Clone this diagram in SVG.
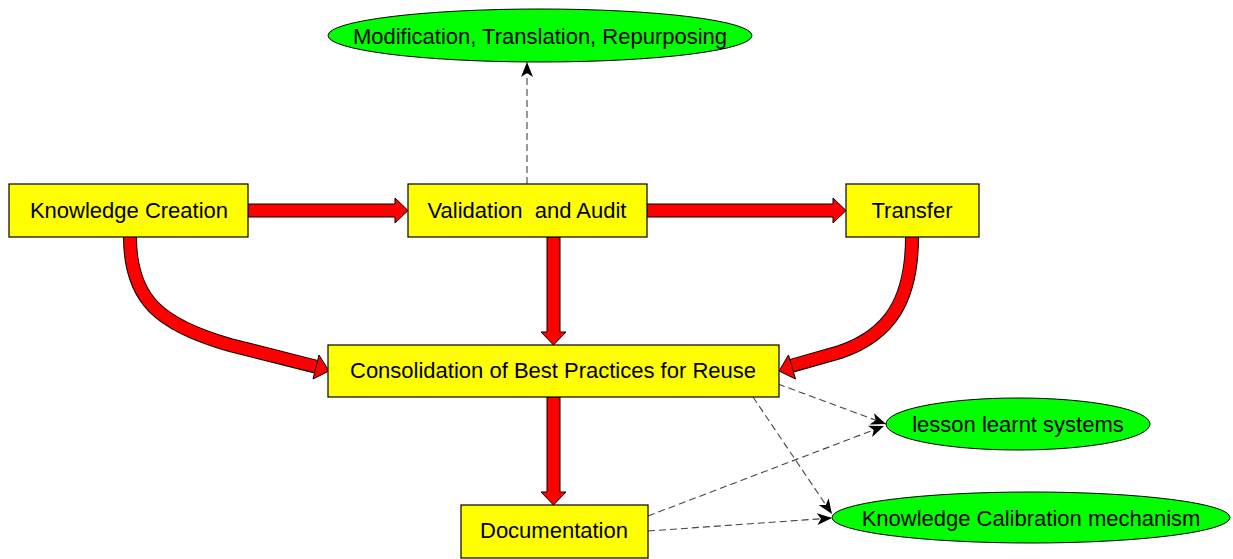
<svg xmlns="http://www.w3.org/2000/svg" width="1233" height="559" viewBox="0 0 1233 559">
<style>
.box{fill:#ffff00;stroke:#000;stroke-width:1.2}
.ell{fill:#00ff00;stroke:#000;stroke-width:1}
.t{font-family:"Liberation Sans",Arial,sans-serif;font-size:22px;fill:#000;text-anchor:middle;white-space:pre}
.fat{fill:#ff0000;stroke:#000;stroke-width:1}
.cout{fill:none;stroke:#000;stroke-width:14}
.cin{fill:none;stroke:#ff0000;stroke-width:12}
.dash{fill:none;stroke:#444;stroke-width:1.1;stroke-dasharray:7,4}
</style>
<defs>
<marker id="ah" viewBox="0 0 15 12" refX="15" refY="6" markerWidth="15" markerHeight="12" markerUnits="userSpaceOnUse" orient="auto">
<path d="M0,0 L15,6 L0,12 L4,6 z" fill="#000"/>
</marker>
</defs>
<g id="connectors">
<polygon class="fat" points="248,204 395,204 395,198 408,210.5 395,223 395,217 248,217"/>
<polygon class="fat" points="647,204 833,204 833,198 846,210.5 833,223 833,217 647,217"/>
<polygon class="fat" points="547,237 560,237 560,332 566,332 553.5,345 541,332 547,332"/>
<polygon class="fat" points="547,397 560,397 560,492 566,492 553.5,505 541,492 547,492"/>
<path class="cout" d="M130,237 C130,300 160,325 230,345 L317,367"/>
<path class="cin" d="M130,236 C130,300 160,325 230,345 L318,367"/>
<polygon class="fat" points="319,355 329,371 313,379"/>
<path class="cout" d="M912,237 C912,300 890,335 840,352 L791,366"/>
<path class="cin" d="M912,236 C912,300 890,335 840,352 L790,366"/>
<polygon class="fat" points="788.5,355 779,371 795.5,379"/>
<path class="dash" d="M527,184 L527,62" marker-end="url(#ah)"/>
<path class="dash" d="M778,384 L886,424" marker-end="url(#ah)"/>
<path class="dash" d="M753,397 L832,514" marker-end="url(#ah)"/>
<path class="dash" d="M648,516 L884,426" marker-end="url(#ah)"/>
<path class="dash" d="M648,531 L832,518" marker-end="url(#ah)"/>
</g>
<g id="n-creation"><rect class="box" x="9" y="184" width="239" height="53"/><text class="t" x="129" y="218">Knowledge Creation</text></g>
<g id="n-validation"><rect class="box" x="408" y="184" width="239" height="53"/><text class="t" x="527" y="218">Validation  and Audit</text></g>
<g id="n-transfer"><rect class="box" x="846" y="184" width="133" height="53"/><text class="t" x="912" y="218">Transfer</text></g>
<g id="n-modification"><ellipse class="ell" cx="540" cy="35.5" rx="212" ry="26.5"/><text class="t" x="540" y="44">Modification, Translation, Repurposing</text></g>
<g id="n-consolidation"><rect class="box" x="328" y="345" width="451" height="52"/><text class="t" x="553" y="378">Consolidation of Best Practices for Reuse</text></g>
<g id="n-documentation"><rect class="box" x="461" y="505" width="187" height="53"/><text class="t" x="554" y="538">Documentation</text></g>
<g id="n-lesson"><ellipse class="ell" cx="1018" cy="424" rx="132" ry="26"/><text class="t" x="1018" y="432">lesson learnt systems</text></g>
<g id="n-calibration"><ellipse class="ell" cx="1031" cy="517.5" rx="199" ry="25.5"/><text class="t" x="1031" y="526">Knowledge Calibration mechanism</text></g>
</svg>
